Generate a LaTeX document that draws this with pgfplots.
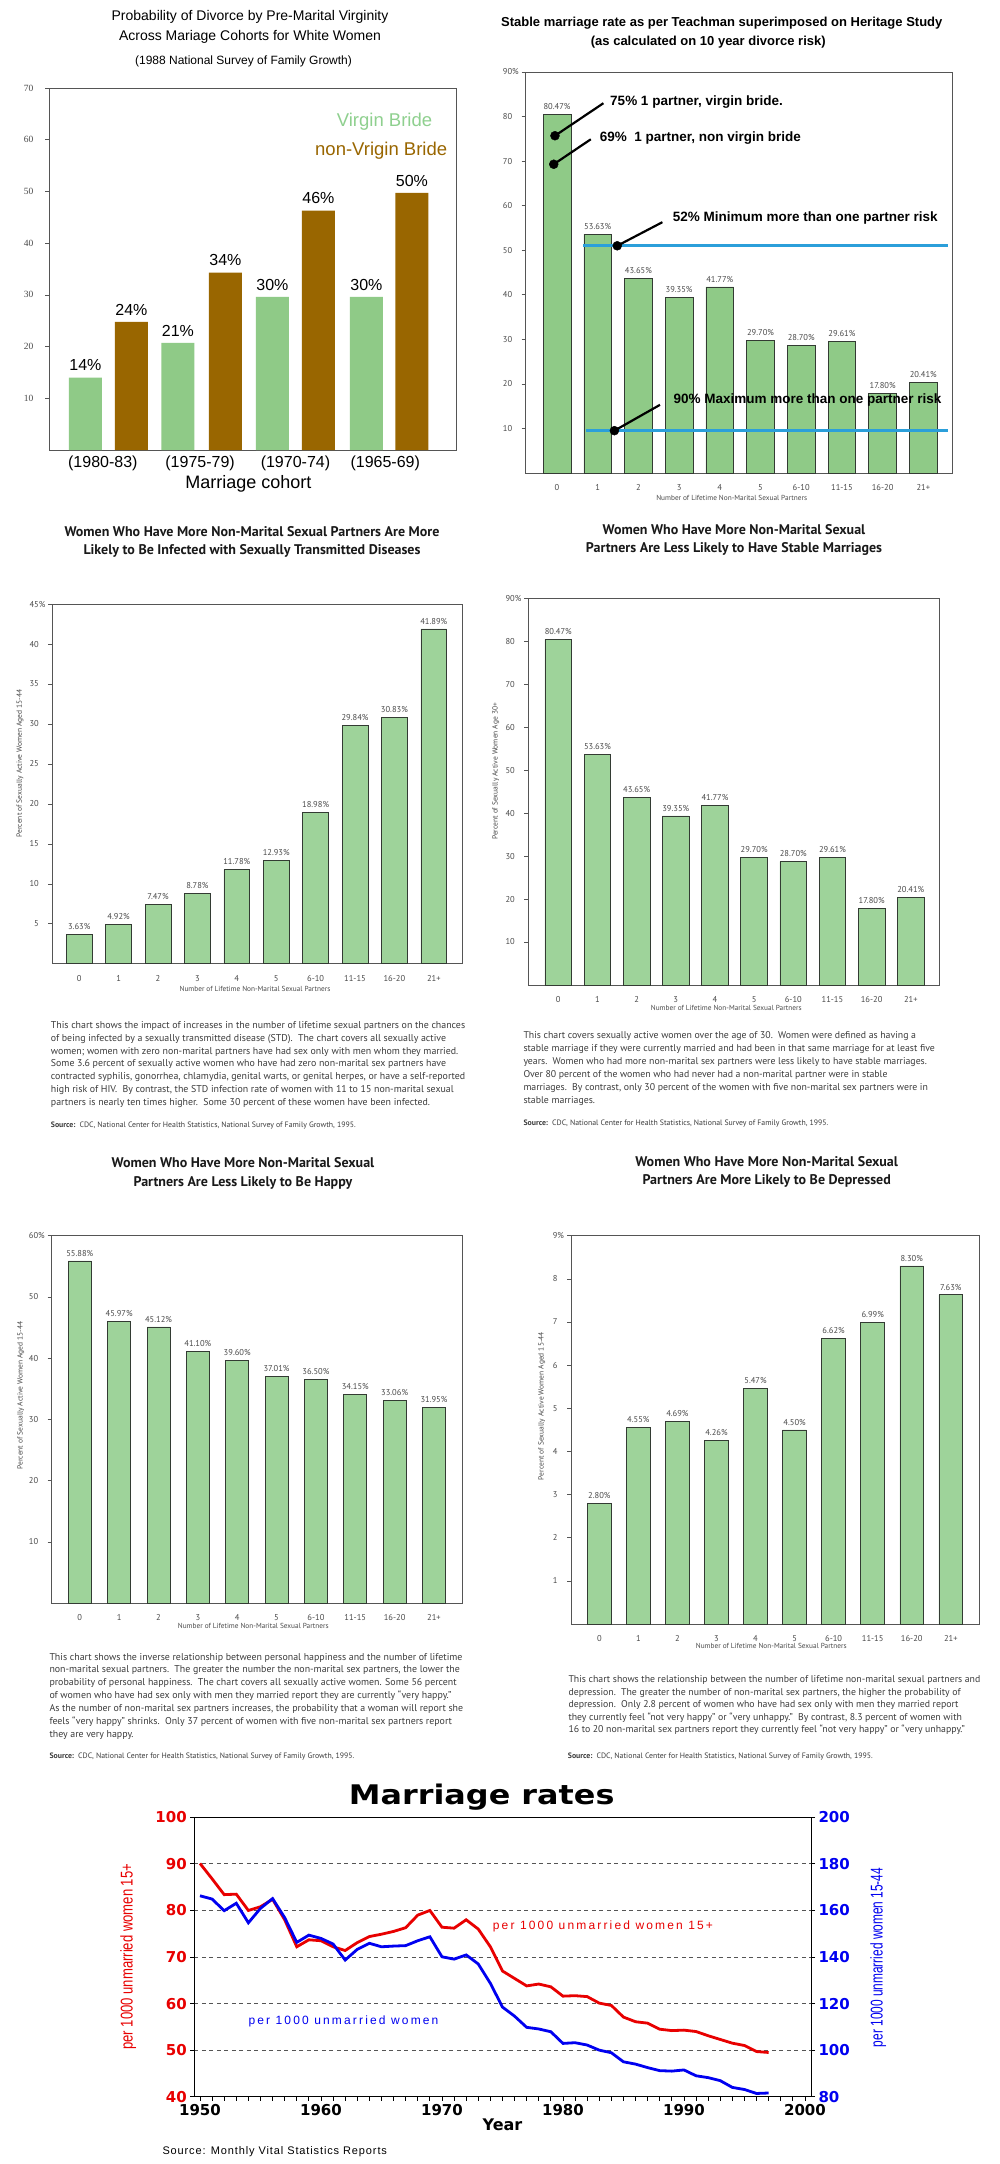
\documentclass[border=0pt]{standalone}
\usepackage{pgfplots}
\pgfplotsset{compat=1.18}
\usepackage{fontspec}
\setmainfont{Liberation Sans}
\newfontfamily\cdc{PT Sans}
\newfontfamily\dvs{DejaVu Sans}
\newfontfamily\tms{Liberation Serif}
\newfontfamily\lsp[LetterSpace=18]{Liberation Sans}
\newfontfamily\lsps[LetterSpace=8]{Liberation Sans}
\newcommand\fs[2]{\fontsize{#1}{#2}\selectfont}

\definecolor{cdcgreen}{HTML}{9ED39A}
\definecolor{tgreen}{HTML}{8FCA87}
\definecolor{brwn}{HTML}{996600}
\definecolor{lgreen}{HTML}{8FD08F}
\definecolor{barline}{HTML}{333B33}
\definecolor{axgray}{HTML}{555555}
\definecolor{lblgray}{HTML}{4A4A4A}
\definecolor{txtgray}{HTML}{3C3C3C}
\definecolor{lineblue}{HTML}{2B9FDA}
\definecolor{mred}{HTML}{E80000}
\definecolor{mblue}{HTML}{0000F0}

\pgfplotsset{
  cdc/.style={
    scale only axis, anchor=south west, clip=false,
    ymin=0,
    axis line style={draw=axgray, line width=0.8pt},
    xtick={0,...,9},
    xticklabels={0,1,2,3,4,5,6-10,11-15,16-20,21+},
    xtick style={draw=none},
    ytick style={draw=axgray, line width=0.6pt},
    ytick pos=left,
    tick align=outside, major tick length=4pt,
    tick label style={font=\cdc\fs{8.5}{9}, text=lblgray},
    xticklabel style={yshift=-4pt},
    yticklabel style={xshift=-6pt},
    /pgf/number format/assume math mode=true,
  },
  cdcbar/.style={ybar, bar shift=0pt, bar width=#1, fill=cdcgreen, draw=barline, line width=0.7pt,
    nodes near coords={\pgfmathprintnumber[fixed,fixed zerofill,precision=2]{\pgfplotspointmeta}\%},
    every node near coord/.append style={font=\cdc\fs{8.5}{9}, text=lblgray, yshift=1pt}},
}

\begin{document}
\begin{tikzpicture}[x=1pt,y=1pt]
\path[use as bounding box, fill=white] (0,0) rectangle (1000,-2164);

% ---------- 1: divorce by virginity ----------
\node[align=center, font=\fs{14}{20}] at (250,-27) {Probability of Divorce by Pre-Marital Virginity\\Across Mariage Cohorts for White Women};
\node[font=\fs{12}{14}] at (243.5,-61) {(1988 National Survey of Family Growth)};
\begin{axis}[cdc, at={(49pt,-450pt)}, width=407pt, height=362pt,
  xmin=-0.636, xmax=3.717, ymax=70, ytick={10,20,...,70},
  xtick={-0.06,0.98,2.0,2.96}, xticklabels={(1980-83),(1975-79),(1970-74),(1965-69)},
  xticklabel style={font=\fs{16}{16}, text=black, inner sep=0pt, yshift=2pt},
  yticklabel style={font=\tms\fs{9.5}{10}, text=lblgray, xshift=-2pt},
  point meta=explicit symbolic]
\addplot[ybar, bar shift=0pt, bar width=33pt, fill=tgreen, draw=none,
  nodes near coords, every node near coord/.append style={font=\fs{16}{16}, yshift=3pt}]
  coordinates {(-0.246,14) [14\%] (0.743,20.7) [21\%] (1.754,29.6) [30\%] (2.759,29.6) [30\%]};
\addplot[ybar, bar shift=0pt, bar width=33pt, fill=brwn, draw=none,
  nodes near coords, every node near coord/.append style={font=\fs{16}{16}, yshift=3pt}]
  coordinates {(0.246,24.8) [24\%] (1.251,34.3) [34\%] (2.246,46.3) [46\%] (3.246,49.7) [50\%]};
\end{axis}
\node[anchor=east, font=\fs{18.5}{20}, text=lgreen] at (435.7,-122) {Virgin Bride};
\node[anchor=east, font=\fs{18.5}{20}, text=brwn] at (450.7,-151) {non-Vrigin Bride};
\node[inner sep=0pt, font=\fs{18}{20}] at (248.3,-484) {Marriage cohort};

% ---------- 2: Teachman superimposed ----------
\node[font=\bfseries\fs{13}{14}] at (721.8,-22.7) {Stable marriage rate as per Teachman superimposed on Heritage Study};
\node[font=\bfseries\fs{13}{14}] at (708.3,-42) {(as calculated on 10 year divorce risk)};
\begin{axis}[cdc, at={(525.7pt,-473pt)}, width=426.3pt, height=401pt,
  xmin=-0.769, xmax=9.705, ymax=90, ytick={10,20,...,90},
  yticklabels={10,20,30,40,50,60,70,80,90\rlap{\%}}]
\addplot[cdcbar=27.7pt, fill=tgreen] coordinates {(0,80.47) (1,53.63) (2,43.65) (3,39.35) (4,41.77) (5,29.70) (6,28.70) (7,29.61) (8,17.80) (9,20.41)};
\addplot[lineblue, line width=3pt] coordinates {(0.64,51) (9.6,51)};
\addplot[lineblue, line width=3pt] coordinates {(0.71,9.5) (9.6,9.5)};
\addplot[black, line width=2.2pt] coordinates {(-0.05,75.7) (1.14,83.0)};
\addplot[black, line width=2.2pt] coordinates {(-0.08,69.3) (0.83,74.9)};
\addplot[black, line width=2.2pt] coordinates {(1.48,51) (2.59,56.3)};
\addplot[black, line width=2.2pt] coordinates {(1.41,9.5) (2.53,15.3)};
\addplot[only marks, mark=*, mark size=4.5pt, black] coordinates {(-0.05,75.7) (-0.08,69.3) (1.48,51) (1.41,9.5)};
\end{axis}
\begin{scope}[every node/.style={anchor=west, font=\bfseries\fs{13.5}{15}}]
\node at (606.7,-102) {75\% 1 partner, virgin bride.};
\node at (596.3,-137.7) {69\%\ \ 1 partner, non virgin bride};
\node at (669.3,-218.3) {52\% Minimum more than one partner risk};
\node at (670,-400) {90\% Maximum more than one partner risk};
\end{scope}
\node[font=\cdc\fs{7.3}{8}, text=lblgray] at (731.7,-498.3) {Number of Lifetime Non-Marital Sexual Partners};

% ---------- 3: STD ----------
\node[align=center, font=\cdc\bfseries\fs{14}{18}, text=black!90] at (252,-541.6) {Women Who Have More Non-Marital Sexual Partners Are More\\Likely to Be Infected with Sexually Transmitted Diseases};
\begin{axis}[cdc, at={(52.3pt,-963.7pt)}, width=410pt, height=359.6pt,
  xmin=-0.683, xmax=9.723, ymax=45, ytick={5,10,...,45},
  yticklabels={5,10,15,20,25,30,35,40,45\rlap{\%}}]
\addplot[cdcbar=25.7pt] coordinates {(0,3.63) (1,4.92) (2,7.47) (3,8.78) (4,11.78) (5,12.93) (6,18.98) (7,29.84) (8,30.83) (9,41.89)};
\end{axis}
\node[rotate=90, font=\cdc\fs{7.5}{8}, text=lblgray] at (20,-763.3) {Percent of Sexually Active Women Aged 15-44};
\node[font=\cdc\fs{7.3}{8}, text=lblgray] at (255,-988.6) {Number of Lifetime Non-Marital Sexual Partners};
\node[anchor=north west, align=left, inner sep=0pt, font=\cdc\fs{9.9}{12.8}, text=txtgray] at (50.7,-1021.2) {This chart shows the impact of increases in the number of lifetime sexual partners on the chances\\of being infected by a sexually transmitted disease (STD).\ \ The chart covers all sexually active\\women; women with zero non-marital partners have had sex only with men whom they married.\\Some 3.6 percent of sexually active women who have had zero non-marital sex partners have\\contracted syphilis, gonorrhea, chlamydia, genital warts, or genital herpes, or have a self-reported\\high risk of HIV.\ \ By contrast, the STD infection rate of women with 11 to 15 non-marital sexual\\partners is nearly ten times higher.\ \ Some 30 percent of these women have been infected.};
\node[anchor=west, inner sep=0pt, font=\cdc\fs{7.8}{8}, text=txtgray] at (50.7,-1125.3) {\textbf{Source:}\ \ CDC, National Center for Health Statistics, National Survey of Family Growth, 1995.};

% ---------- 4: stable marriages ----------
\node[align=center, font=\cdc\bfseries\fs{14}{18.4}, text=black!90] at (734,-539.8) {Women Who Have More Non-Marital Sexual\\Partners Are Less Likely to Have Stable Marriages};
\begin{axis}[cdc, at={(528.3pt,-984.9pt)}, width=411pt, height=386.5pt,
  xmin=-0.766, xmax=9.728, ymax=90, ytick={10,20,...,90},
  yticklabels={10,20,30,40,50,60,70,80,90\rlap{\%}}]
\addplot[cdcbar=26.7pt] coordinates {(0,80.47) (1,53.63) (2,43.65) (3,39.35) (4,41.77) (5,29.70) (6,28.70) (7,29.61) (8,17.80) (9,20.41)};
\end{axis}
\node[rotate=90, font=\cdc\fs{7.5}{8}, text=lblgray] at (495.7,-771.4) {Percent of Sexually Active Women Age 30+};
\node[font=\cdc\fs{7.3}{8}, text=lblgray] at (726.3,-1008.2) {Number of Lifetime Non-Marital Sexual Partners};
\node[anchor=north west, align=left, inner sep=0pt, font=\cdc\fs{9.8}{13}, text=txtgray] at (523.3,-1031.4) {This chart covers sexually active women over the age of 30.\ \ Women were defined as having a\\stable marriage if they were currently married and had been in that same marriage for at least five\\years.\ \ Women who had more non-marital sex partners were less likely to have stable marriages.\\Over 80 percent of the women who had never had a non-marital partner were in stable\\marriages.\ \ By contrast, only 30 percent of the women with five non-marital sex partners were in\\stable marriages.};
\node[anchor=west, inner sep=0pt, font=\cdc\fs{7.8}{8}, text=txtgray] at (523.3,-1123.7) {\textbf{Source:}\ \ CDC, National Center for Health Statistics, National Survey of Family Growth, 1995.};

% ---------- 5: happy ----------
\node[align=center, font=\cdc\bfseries\fs{14}{19}, text=black!90] at (243,-1173.4) {Women Who Have More Non-Marital Sexual\\Partners Are Less Likely to Be Happy};
\begin{axis}[cdc, at={(51.7pt,-1603.2pt)}, width=410.6pt, height=367.5pt,
  xmin=-0.714, xmax=9.72, ymax=60, ytick={10,20,...,60},
  yticklabels={10,20,30,40,50,60\rlap{\%}}]
\addplot[cdcbar=23pt] coordinates {(0,55.88) (1,45.97) (2,45.12) (3,41.10) (4,39.60) (5,37.01) (6,36.50) (7,34.15) (8,33.06) (9,31.95)};
\end{axis}
\node[rotate=90, font=\cdc\fs{7.5}{8}, text=lblgray] at (20.7,-1395.4) {Percent of Sexually Active Women Aged 15-44};
\node[font=\cdc\fs{7.3}{8}, text=lblgray] at (253.3,-1626) {Number of Lifetime Non-Marital Sexual Partners};
\node[anchor=north west, align=left, inner sep=0pt, font=\cdc\fs{9.9}{12.95}, text=txtgray] at (49.3,-1652.8) {This chart shows the inverse relationship between personal happiness and the number of lifetime\\non-marital sexual partners.\ \ The greater the number the non-marital sex partners, the lower the\\probability of personal happiness.\ \ The chart covers all sexually active women. Some 56 percent\\of women who have had sex only with men they married report they are currently “very happy.”\\As the number of non-marital sex partners increases, the probability that a woman will report she\\feels “very happy” shrinks.\ \ Only 37 percent of women with five non-marital sex partners report\\they are very happy.};
\node[anchor=west, inner sep=0pt, font=\cdc\fs{7.8}{8}, text=txtgray] at (49.3,-1756.7) {\textbf{Source:}\ \ CDC, National Center for Health Statistics, National Survey of Family Growth, 1995.};

% ---------- 6: depressed ----------
\node[align=center, font=\cdc\bfseries\fs{14}{17.8}, text=black!90] at (766.7,-1172.1) {Women Who Have More Non-Marital Sexual\\Partners Are More Likely to Be Depressed};
\begin{axis}[cdc, at={(571pt,-1624pt)}, width=408.3pt, height=388.3pt,
  xmin=-0.725, xmax=9.73, ymax=9, ytick={1,2,...,9},
  yticklabels={1,2,3,4,5,6,7,8,9\rlap{\%}}]
\addplot[cdcbar=23.7pt] coordinates {(0,2.80) (1,4.55) (2,4.69) (3,4.26) (4,5.47) (5,4.50) (6,6.62) (7,6.99) (8,8.30) (9,7.63)};
\end{axis}
\node[rotate=90, font=\cdc\fs{7.5}{8}, text=lblgray] at (541.7,-1406) {Percent of Sexually Active Women Aged 15-44};
\node[font=\cdc\fs{7.3}{8}, text=lblgray] at (771.3,-1646) {Number of Lifetime Non-Marital Sexual Partners};
\node[anchor=north west, align=left, inner sep=0pt, font=\cdc\fs{9.8}{12.5}, text=txtgray] at (568.3,-1675.5) {This chart shows the relationship between the number of lifetime non-marital sexual partners and\\depression.\ \ The greater the number of non-marital sex partners, the higher the probability of\\depression.\ \ Only 2.8 percent of women who have had sex only with men they married report\\they currently feel “not very happy” or “very unhappy.”\ \ By contrast, 8.3 percent of women with\\16 to 20 non-marital sex partners report they currently feel “not very happy” or “very unhappy.”};
\node[anchor=west, inner sep=0pt, font=\cdc\fs{7.8}{8}, text=txtgray] at (567.7,-1756.7) {\textbf{Source:}\ \ CDC, National Center for Health Statistics, National Survey of Family Growth, 1995.};

% ---------- 7: marriage rates ----------
\node[anchor=base, font=\dvs\bfseries\fs{27}{28}] at (481.7,-1804) {\scalebox{1.18}[1]{Marriage rates}};
\begin{axis}[scale only axis, anchor=south west, at={(194.3pt,-2096.7pt)}, width=616.7pt, height=279.4pt,
  xmin=1949.53, xmax=2000.5, ymin=40, ymax=100,
  xtick={1950,1960,...,2000}, minor x tick num=9,
  ytick={40,50,...,100}, ymajorgrids,
  grid style={dash pattern=on 4pt off 3.5pt, draw=axgray, line width=0.9pt},
  axis line style={line width=0.9pt, draw=black},
  tick align=outside, major tick length=4pt, minor tick length=4pt,
  xtick pos=left, ytick pos=left,
  tick style={black, line width=0.8pt},
  ticklabel style={font=\dvs\bfseries\fs{15}{15}},
  yticklabel style={text=mred},
  /pgf/number format/assume math mode=true,
  /pgf/number format/1000 sep={}]
\addplot[mred, line width=2.8pt] coordinates {
 (1950,90.1) (1951,86.8) (1952,83.4) (1953,83.5) (1954,80.0) (1955,80.8) (1956,82.4) (1957,78.0)
 (1958,72.2) (1959,73.7) (1960,73.5) (1961,72.2) (1962,71.4) (1963,73.1) (1964,74.4) (1965,74.9)
 (1966,75.5) (1967,76.3) (1968,79.0) (1969,80.0) (1970,76.4) (1971,76.2) (1972,78.0) (1973,76.0)
 (1974,72.2) (1975,67.0) (1976,65.4) (1977,63.8) (1978,64.2) (1979,63.6) (1980,61.6) (1981,61.7)
 (1982,61.5) (1983,60.1) (1984,59.6) (1985,57.1) (1986,56.1) (1987,55.8) (1988,54.5) (1989,54.2)
 (1990,54.3) (1991,54.0) (1992,53.1) (1993,52.3) (1994,51.5) (1995,51.0) (1996,49.7) (1997,49.5)};
\end{axis}
\begin{axis}[scale only axis, anchor=south west, at={(194.3pt,-2096.7pt)}, width=616.7pt, height=279.4pt,
  xmin=1949.53, xmax=2000.5, ymin=80, ymax=200,
  axis x line=none, axis y line*=right,
  ytick={80,100,...,200},
  axis line style={line width=0.9pt, draw=black},
  tick align=outside, major tick length=4pt,
  tick style={black, line width=0.8pt},
  ticklabel style={font=\dvs\bfseries\fs{15}{15}, text=mblue},
  /pgf/number format/assume math mode=true]
\addplot[mblue, line width=2.8pt] coordinates {
 (1950,166.3) (1951,164.9) (1952,159.9) (1953,163.1) (1954,154.7) (1955,160.9) (1956,165.1) (1957,156.9)
 (1958,146.3) (1959,149.4) (1960,148.0) (1961,145.6) (1962,138.7) (1963,143.3) (1964,145.9) (1965,144.4)
 (1966,144.7) (1967,144.9) (1968,147.0) (1969,148.7) (1970,140.1) (1971,139.1) (1972,140.9) (1973,137.0)
 (1974,128.7) (1975,118.5) (1976,114.6) (1977,109.8) (1978,109.1) (1979,107.9) (1980,102.9) (1981,103.2)
 (1982,102.2) (1983,100.0) (1984,98.9) (1985,95.0) (1986,94.0) (1987,92.5) (1988,91.2) (1989,91.0)
 (1990,91.5) (1991,89.0) (1992,88.2) (1993,86.9) (1994,84.0) (1995,83.1) (1996,81.4) (1997,81.6)};
\end{axis}
\node[rotate=90, text=mred] at (128.3,-1956.7) {\scalebox{0.77}[1]{\fs{17}{18}per 1000 unmarried women 15+}};
\node[rotate=90, text=mblue] at (878.3,-1957.4) {\scalebox{0.70}[1]{\fs{17}{18}per 1000 unmarried women 15-44}};
\node[anchor=west, inner sep=0pt, font=\lsp\fs{12}{13}, text=mred] at (492.7,-1926) {per 1000 unmarried women 15+};
\node[anchor=west, inner sep=0pt, font=\lsp\fs{12}{13}, text=mblue] at (248.3,-2021.7) {per 1000 unmarried women};
\node[font=\dvs\bfseries\fs{16}{17}] at (502.5,-2125) {Year};
\node[anchor=west, inner sep=0pt, font=\lsps\fs{11}{12}] at (162.3,-2151.7) {Source: Monthly Vital Statistics Reports};
\end{tikzpicture}
\end{document}
